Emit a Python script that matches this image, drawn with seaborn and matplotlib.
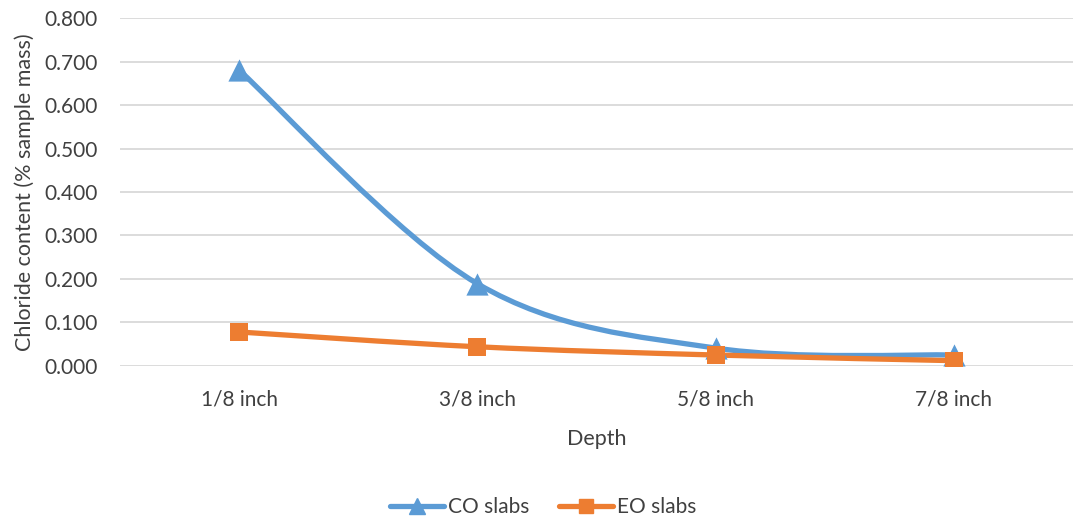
import numpy as np
import pandas as pd
import matplotlib
matplotlib.use("Agg")
import matplotlib.pyplot as plt
from matplotlib.path import Path
from matplotlib.patches import PathPatch
from matplotlib.lines import Line2D
import seaborn as sns

depths = ["1/8 inch", "3/8 inch", "5/8 inch", "7/8 inch"]
co_slabs = [0.680, 0.189, 0.041, 0.025]
eo_slabs = [0.078, 0.044, 0.025, 0.012]
y_ticks = [0.0, 0.1, 0.2, 0.3, 0.4, 0.5, 0.6, 0.7, 0.8]

BLUE = "#5B9BD5"
ORANGE = "#ED7D31"
TEXT = "#404040"
GRID = "#D9D9D9"

sns.set_theme(style="white")
plt.rcParams["font.family"] = ["Lato", "DejaVu Sans"]

df = pd.DataFrame({
    "Depth": depths * 2,
    "value": co_slabs + eo_slabs,
    "series": ["CO slabs"] * 4 + ["EO slabs"] * 4,
})
df["pos"] = list(range(len(depths))) * 2

fig = plt.figure(figsize=(10.73, 5.19), dpi=100)
ax = fig.add_axes([0.112, 0.295, 0.888, 0.670])


def smooth_path(xs, ys):
    """Bezier path through the points, with tangents from neighbouring points."""
    pts = np.column_stack([xs, ys]).astype(float)
    n = len(pts)
    verts = [pts[0]]
    codes = [Path.MOVETO]
    for i in range(n - 1):
        p_prev = pts[i - 1] if i > 0 else pts[i]
        p_next2 = pts[i + 2] if i + 2 < n else pts[i + 1]
        c1 = pts[i] + (pts[i + 1] - p_prev) / 6.0
        c2 = pts[i + 1] - (p_next2 - pts[i]) / 6.0
        verts += [c1, c2, pts[i + 1]]
        codes += [Path.CURVE4] * 3
    return Path(verts, codes)


styles = {"CO slabs": (BLUE, "^", 16), "EO slabs": (ORANGE, "s", 13)}
for name, (color, marker, ms) in styles.items():
    sub = df[df["series"] == name]
    ax.add_patch(PathPatch(smooth_path(sub["pos"], sub["value"]), facecolor="none",
                           edgecolor=color, lw=3.8, capstyle="round", zorder=3))
    sns.scatterplot(data=sub, x="pos", y="value", marker=marker, s=ms ** 2,
                    color=color, edgecolor=color, linewidth=0, ax=ax, zorder=4,
                    legend=False)

ax.set_xlim(-0.5, len(depths) - 0.5)
ax.set_ylim(0, 0.8)
ax.set_yticks(y_ticks)
ax.set_yticklabels([f"{v:.3f}" for v in y_ticks])
ax.set_xticks(range(len(depths)))
ax.set_xticklabels(depths)
ax.yaxis.grid(True, color=GRID, lw=1.3)
ax.set_axisbelow(True)
for s in ax.spines.values():
    s.set_visible(False)
ax.tick_params(axis="both", length=0, labelsize=15, labelcolor=TEXT)
ax.tick_params(axis="x", pad=17)
ax.tick_params(axis="y", pad=16)
ax.set_xlabel("Depth", fontsize=15.5, color=TEXT, labelpad=14)
ax.set_ylabel("Chloride content (% sample mass)", fontsize=15.5, color=TEXT, labelpad=7)

handles = [
    Line2D([0], [0], color=BLUE, lw=3.8, marker="^", markersize=12, solid_capstyle="round"),
    Line2D([0], [0], color=ORANGE, lw=3.8, marker="s", markersize=10, solid_capstyle="round"),
]
fig.legend(handles, ["CO slabs", "EO slabs"], loc="center", bbox_to_anchor=(0.506, 0.023),
           ncol=2, frameon=False, fontsize=15, handlelength=2.6, columnspacing=1.4,
           handletextpad=0.2, labelcolor=TEXT)

fig.savefig("out.png", dpi=100)
